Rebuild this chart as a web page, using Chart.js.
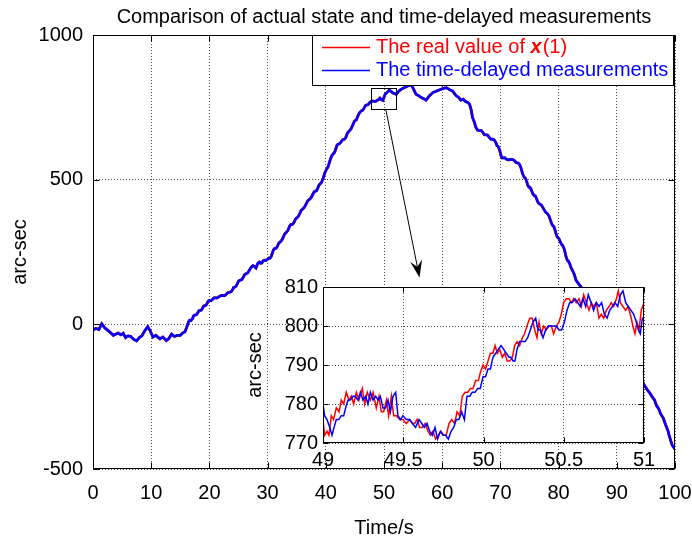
<!DOCTYPE html>
<html><head><meta charset="utf-8">
<script src="https://cdn.jsdelivr.net/npm/chart.js@4.4.1/dist/chart.umd.min.js"></script>
<style>
html,body{margin:0;padding:0;background:#fff;}
#wrap{position:relative;width:692px;height:542px;overflow:hidden;}
#main{position:absolute;left:0;top:0;}
#inset{position:absolute;left:230px;top:270px;}
</style></head><body>
<div id="wrap">
<canvas id="main" width="692" height="542"></canvas>
<canvas id="inset" width="430" height="203"></canvas>
</div>
<script>
const FONT = '"Liberation Sans", Arial, Helvetica, sans-serif';
const titleText = 'Comparison of actual state and time-delayed measurements';
const xTitle = 'Time/s';
const yTitle = 'arc-sec';
const seriesNames = ['The real value of x(1)', 'The time-delayed measurements'];
const legendRealParts = ['The real value of ', 'x', '(1)'];

const xTicks = [0, 10, 20, 30, 40, 50, 60, 70, 80, 90, 100];
const yTicks = [-500, 0, 500, 1000];
const insetXTicks = [49, 49.5, 50, 50.5, 51];
const insetYTicks = [770, 780, 790, 800, 810];

const mainTime = [
  0,0.5,1.0,1.5,2.0,2.5,2.8,3.5,4.0,4.3,4.8,5.2,5.6,6.0,6.5,7.0,7.5,8.0,8.4,8.9,9.4,9.8,10.3,10.8,11.2,11.5,12.0,12.6,13.0,13.5,14.0,14.5,15.0,15.4,15.8,16.2,
  16.4,16.6,16.85,17.1,17.3,17.5,17.75,18.0,18.2,18.4,18.6,18.8,19.0,19.2,19.4,19.6,19.8,20.0,
  20.25,20.5,20.75,21.0,21.3,21.6,21.95,22.3,22.6,22.9,23.2,23.5,23.75,24.0,24.15,24.3,24.55,24.8,25.0,25.2,25.5,25.8,
  26.05,26.3,26.6,26.9,27.2,27.5,27.75,28.0,28.3,28.6,28.8,29.0,29.25,29.5,29.75,30.0,
  30.2,30.4,30.6,30.8,31.0,31.2,31.45,31.7,31.9,32.1,32.35,32.6,32.9,33.2,33.5,33.8,34.0,34.2,34.4,34.6,34.8,35.0,
  35.25,35.5,35.75,36.0,36.3,36.6,36.9,37.2,37.5,37.8,38.0,38.2,38.4,38.6,38.8,39.0,39.25,39.5,39.8,40.1,
  40.4,40.7,41.0,41.3,41.5,41.7,41.9,42.1,42.35,42.6,42.9,43.2,43.4,43.6,43.8,44.0,44.35,44.7,44.9,45.1,
  45.25,45.4,45.75,46.1,46.35,46.6,46.8,47.0,47.25,47.5,47.8,48.1,
  48.5,49.0,49.3,49.5,49.8,50.0,50.2,50.5,50.9,51.2,51.5,52.1,52.5,52.9,53.5,54.1,54.7,55.1,55.5,56.0,56.3,56.8,57.2,57.5,57.8,58.4,59.0,59.5,60.1,60.7,61.2,61.8,62.4,62.8,63.2,63.6,64.0,64.4,64.7,65.0,65.2,65.5,65.8,
  66.1,66.4,66.7,67.0,67.25,67.5,67.8,68.1,68.35,68.6,68.9,69.2,69.4,69.6,69.85,70.1,
  70.3,70.5,70.75,71.0,71.35,71.7,72.05,72.4,72.7,73.0,73.25,73.5,73.8,74.1,74.3,74.5,74.7,74.9,75.1,75.3,
  75.55,75.8,76.0,76.2,76.45,76.7,77.05,77.4,77.75,78.1,78.35,78.6,78.8,79.0,79.2,79.4,79.6,79.8,80.0,80.2,
  80.45,80.7,80.9,81.1,81.3,81.5,81.7,81.9,82.15,82.4,82.7,83.0,
  84.0,85.0,86.0,87.0,88.0,89.0,90.0,91.0,92.0,93.0,94.0,94.7,95.3,95.7,96.1,96.5,96.8,97.2,97.5,98.0,98.4,98.8,99.0,99.5,100.0];
const mainValue = [
  -20,-14,-18,2,-12,-20,-25,-38,-33,-30,-36,-31,-46,-40,-42,-52,-57,-45,-40,-22,-8,-22,-44,-38,-45,-50,-44,-56,-50,-34,-42,-38,-38,-30,-26,-5,
  8,14,13,20,30,32,33,40,47,48,49,55,63,65,66,72,80,83,
  82,85,91,92,91,95,99,100,99,104,110,111,113,120,127,128,131,140,149,152,154,162,
  172,175,178,188,198,203,200,195,210,215,211,212,220,222,221,225,
  229,228,233,245,257,262,263,270,280,284,288,297,311,318,325,340,345,345,348,355,364,368,
  372,382,393,398,404,415,427,432,438,451,458,460,462,470,480,485,490,502,522,535,
  545,565,582,590,594,605,618,623,624,630,638,640,644,655,664,668,676,692,702,705,
  707,715,730,738,740,748,756,758,759,765,771,772,
  770,776,782,777,774,785,795,801,809,805,800,795,805,812,818,824,828,812,795,790,785,780,775,782,790,801,806,810,815,818,812,806,790,785,775,778,770,767,761,740,715,700,680,
  671,670,670,663,655,655,654,646,640,640,638,629,618,615,604,583,
  575,575,576,571,568,570,570,566,559,558,554,543,521,508,505,495,481,474,473,465,
  452,445,444,435,422,416,412,400,388,382,374,360,348,341,337,325,310,301,298,290,
  278,272,264,250,232,221,218,210,195,186,172,152,
  125,95,62,30,5,-25,-55,-82,-110,-142,-178,-210,-228,-238,-251,-262,-280,-292,-308,-325,-348,-368,-385,-417,-432];

const insetRealTime = [49.000,49.010,49.025,49.037,49.052,49.066,49.083,49.100,49.114,49.129,49.145,49.162,49.177,49.191,49.208,49.224,49.245,49.260,49.276,49.295,49.312,49.332,49.349,49.363,49.378,49.395,49.409,49.426,49.440,49.457,49.478,49.498,49.519,49.540,49.557,49.571,49.586,49.602,49.619,49.636,49.654,49.669,49.685,49.702,49.719,49.735,49.752,49.768,49.785,49.802,49.820,49.835,49.852,49.868,49.885,49.903,49.918,49.935,49.951,49.968,49.980,49.997,50.013,50.028,50.043,50.059,50.072,50.086,50.101,50.117,50.132,50.148,50.163,50.180,50.194,50.209,50.225,50.242,50.256,50.271,50.288,50.304,50.319,50.333,50.346,50.360,50.375,50.391,50.408,50.423,50.437,50.454,50.470,50.485,50.499,50.516,50.533,50.547,50.562,50.578,50.595,50.610,50.624,50.641,50.657,50.672,50.686,50.703,50.720,50.734,50.749,50.765,50.782,50.796,50.811,50.828,50.840,50.853,50.869,50.886,50.900,50.915,50.931,50.944,50.956,50.969,50.983,51.000];
const insetRealValue = [776,772,773,772,777,776,779,778,781,780,783,781,782,780,783,781,784,780,783,781,783,779,782,778,778,781,777,782,777,777,776,776,775,776,775,775,776,774,774,775,773,772,773,771,772,773,772,772,775,776,775,778,777,782,783,783,784,784,786,786,788,790,789,791,793,793,795,793,794,792,793,791,791,792,795,796,795,797,798,800,802,802,799,797,801,798,800,799,800,800,798,800,801,803,806,807,807,806,807,806,807,805,808,806,804,806,805,806,802,803,802,804,805,806,805,807,809,806,805,804,805,803,800,798,801,799,804,806];

const insetDelayTime = [49.000,49.010,49.025,49.042,49.056,49.069,49.083,49.098,49.114,49.129,49.141,49.156,49.170,49.187,49.201,49.218,49.233,49.249,49.266,49.280,49.295,49.312,49.328,49.343,49.357,49.374,49.390,49.405,49.420,49.436,49.453,49.467,49.482,49.498,49.519,49.540,49.557,49.577,49.598,49.615,49.631,49.648,49.665,49.681,49.698,49.714,49.731,49.748,49.764,49.781,49.798,49.814,49.831,49.847,49.864,49.881,49.897,49.914,49.930,49.947,49.964,49.980,49.997,50.013,50.028,50.043,50.059,50.076,50.092,50.109,50.126,50.142,50.159,50.171,50.184,50.196,50.209,50.225,50.242,50.259,50.275,50.292,50.308,50.325,50.340,50.354,50.371,50.387,50.404,50.421,50.437,50.454,50.470,50.487,50.504,50.520,50.537,50.553,50.570,50.587,50.603,50.620,50.637,50.653,50.670,50.686,50.703,50.720,50.736,50.753,50.770,50.786,50.803,50.819,50.836,50.853,50.869,50.886,50.902,50.919,50.936,50.952,50.965,50.977,50.990,51.000];
const insetDelayValue = [780,777,776,774,772,774,776,776,777,777,779,781,781,782,782,781,783,781,782,780,783,781,782,781,782,779,779,781,778,782,783,777,776,777,776,776,775,774,776,775,774,775,773,772,774,771,773,772,772,771,773,774,776,776,778,776,782,782,783,783,784,784,787,787,789,789,792,793,794,795,794,793,792,792,791,791,794,796,796,796,797,799,801,802,799,799,797,799,800,800,800,800,799,799,801,804,806,806,807,806,805,807,805,808,806,804,806,805,806,803,802,804,805,806,805,808,809,806,805,804,803,801,799,798,802,802];

// zoom rectangle (time range, value range) and arrow (start / end in data units)
const zoomBoxTime = [47.8, 52.1];
const zoomBoxValue = [744, 816];
const arrowTime = [50.3, 56.1];
const arrowValue = [744, 162];

const RED = '#ff0000', BLUE = '#0000ff';

function fixedTicks(list){ return s => { s.ticks = list.map(v => ({value: v})); }; }

function boxAndTicksPlugin(id, tickLen){
  return {
    id,
    afterDatasetsDraw(chart){
      const {ctx, chartArea: a, scales: {x, y}} = chart;
      ctx.save();
      ctx.strokeStyle = '#000';
      ctx.lineWidth = 1;
      ctx.beginPath();
      const L = Math.round(a.left) + 0.5, R = Math.round(a.right) - 0.5;
      const T = Math.round(a.top) + 0.5, B = Math.round(a.bottom) - 0.5;
      x.ticks.forEach(t => {
        const px = Math.round(x.getPixelForValue(t.value)) + 0.5;
        ctx.moveTo(px, B); ctx.lineTo(px, B - tickLen);
        ctx.moveTo(px, T); ctx.lineTo(px, T + tickLen);
      });
      y.ticks.forEach(t => {
        const py = Math.round(y.getPixelForValue(t.value)) + 0.5;
        ctx.moveTo(L, py); ctx.lineTo(L + tickLen, py);
        ctx.moveTo(R, py); ctx.lineTo(R - tickLen, py);
      });
      ctx.stroke();
      ctx.strokeRect(L, T, R - L, B - T);
      ctx.restore();
    }
  };
}

const annotationPlugin = {
  id: 'zoomAnnot',
  afterDatasetsDraw(chart){
    const {ctx, scales: {x, y}} = chart;
    ctx.save();
    ctx.strokeStyle = '#000';
    ctx.lineWidth = 1;
    const x0 = Math.round(x.getPixelForValue(zoomBoxTime[0])) + 0.5;
    const x1 = Math.round(x.getPixelForValue(zoomBoxTime[1])) + 0.5;
    const y0 = Math.round(y.getPixelForValue(zoomBoxValue[1])) + 0.5;
    const y1 = Math.round(y.getPixelForValue(zoomBoxValue[0])) + 0.5;
    ctx.strokeRect(x0, y0, x1 - x0, y1 - y0);
    const sx = x.getPixelForValue(arrowTime[0]), sy = y.getPixelForValue(arrowValue[0]);
    const ex = x.getPixelForValue(arrowTime[1]), ey = y.getPixelForValue(arrowValue[1]);
    const dx = ex - sx, dy = ey - sy, len = Math.hypot(dx, dy);
    const ux = dx / len, uy = dy / len, nx = -uy, ny = ux;
    const headLen = 17, notch = 11, half = 6;
    ctx.beginPath();
    ctx.moveTo(sx, sy);
    ctx.lineTo(ex - ux * notch, ey - uy * notch);
    ctx.stroke();
    ctx.fillStyle = '#000';
    ctx.beginPath();
    ctx.moveTo(ex, ey);
    ctx.lineTo(ex - ux * headLen + nx * half, ey - uy * headLen + ny * half);
    ctx.lineTo(ex - ux * notch, ey - uy * notch);
    ctx.lineTo(ex - ux * headLen - nx * half, ey - uy * headLen - ny * half);
    ctx.closePath();
    ctx.fill();
    ctx.restore();
  }
};

const titleLegendPlugin = {
  id: 'titleLegend',
  afterDraw(chart){
    const {ctx, chartArea: a} = chart;
    ctx.save();
    ctx.fillStyle = '#000';
    ctx.font = '20px ' + FONT;
    ctx.textAlign = 'center';
    ctx.textBaseline = 'middle';
    ctx.fillText(titleText, (a.left + a.right) / 2, 17);
    const lx = 312, ly = 35, lw = 361, lh = 50;
    ctx.fillStyle = '#fff';
    ctx.fillRect(lx, ly, lw, lh);
    ctx.strokeStyle = '#000';
    ctx.lineWidth = 1;
    ctx.strokeRect(lx + 0.5, ly + 0.5, lw, lh);
    const rows = [{color: RED, y: 47}, {color: BLUE, y: 70}];
    ctx.lineWidth = 1.3;
    rows.forEach(r => {
      ctx.strokeStyle = r.color;
      ctx.beginPath();
      ctx.moveTo(322, r.y + 0.5); ctx.lineTo(370, r.y + 0.5);
      ctx.stroke();
    });
    ctx.textAlign = 'left';
    ctx.textBaseline = 'middle';
    let tx = 376;
    ctx.fillStyle = RED;
    const fonts = ['20px ' + FONT, 'italic bold 20px ' + FONT, '20px ' + FONT];
    legendRealParts.forEach((p, i) => {
      ctx.font = fonts[i];
      ctx.fillText(p, tx, 47);
      tx += ctx.measureText(p).width + (i === 1 ? 1 : 0);
    });
    ctx.font = '20px ' + FONT;
    ctx.fillStyle = BLUE;
    ctx.fillText(seriesNames[1], 376, 70);
    ctx.restore();
  }
};

const axisFont = {family: FONT, size: 20};
const gridOpts = {color: 'rgba(0,0,0,0.7)', lineWidth: 1, drawTicks: false};
const borderOpts = {display: false, dash: [1, 2]};

new Chart(document.getElementById('main'), {
  type: 'line',
  data: {
    datasets: [
      {label: seriesNames[1], order: 0, data: mainTime.map((t, i) => ({x: t, y: mainValue[i]})), borderColor: BLUE, borderWidth: 2.6, pointRadius: 0, tension: 0},
      {label: seriesNames[0], order: 1, data: mainTime.map((t, i) => ({x: t, y: mainValue[i]})), borderColor: RED, borderWidth: 2.8, pointRadius: 0, tension: 0}
    ]
  },
  options: {
    responsive: false, animation: false, devicePixelRatio: 1,
    layout: {padding: {top: 35, right: 17, left: 0, bottom: 0}},
    plugins: {legend: {display: false}, tooltip: {enabled: false}, title: {display: false}},
    scales: {
      x: {
        type: 'linear', min: 0, max: 100,
        afterBuildTicks: fixedTicks(xTicks),
        afterFit: s => { s.height = 73; s.paddingLeft = 0; s.paddingRight = 0; },
        grid: gridOpts, border: borderOpts,
        ticks: {color: '#000', font: axisFont, padding: 12, maxRotation: 0, autoSkip: false, callback: v => String(v)},
        title: {display: true, text: xTitle, color: '#000', font: axisFont, padding: {top: 0, bottom: 2}}
      },
      y: {
        type: 'linear', min: -500, max: 1000,
        afterBuildTicks: fixedTicks(yTicks),
        afterFit: s => { s.width = 93; },
        grid: gridOpts, border: borderOpts,
        ticks: {color: '#000', font: axisFont, padding: 10, autoSkip: false, callback: v => String(v)},
        title: {display: true, text: yTitle, color: '#000', font: axisFont, padding: {top: 8, bottom: 0}}
      }
    }
  },
  plugins: [boxAndTicksPlugin('mainBox', 6), annotationPlugin, titleLegendPlugin]
});

const insetBg = {
  id: 'insetBg',
  beforeDraw(chart){
    const {ctx, chartArea: a} = chart;
    ctx.save(); ctx.fillStyle = '#fff';
    ctx.fillRect(a.left, a.top, a.right - a.left, a.bottom - a.top);
    ctx.restore();
  }
};

new Chart(document.getElementById('inset'), {
  type: 'line',
  data: {
    datasets: [
      {label: seriesNames[1], order: 0, data: insetDelayTime.map((t, i) => ({x: t, y: insetDelayValue[i]})), borderColor: BLUE, borderWidth: 1.5, pointRadius: 0, tension: 0},
      {label: seriesNames[0], order: 1, data: insetRealTime.map((t, i) => ({x: t, y: insetRealValue[i]})), borderColor: RED, borderWidth: 1.5, pointRadius: 0, tension: 0}
    ]
  },
  options: {
    responsive: false, animation: false, devicePixelRatio: 1,
    layout: {padding: {top: 10, right: 16, left: 0, bottom: 0}},
    plugins: {legend: {display: false}, tooltip: {enabled: false}, title: {display: false}},
    scales: {
      x: {
        type: 'linear', min: 49, max: 51,
        afterBuildTicks: fixedTicks(insetXTicks),
        afterFit: s => { s.height = 30; s.paddingLeft = 0; s.paddingRight = 0; },
        grid: gridOpts, border: borderOpts,
        ticks: {color: '#000', font: axisFont, padding: 5, maxRotation: 0, autoSkip: false, callback: v => String(v)}
      },
      y: {
        type: 'linear', min: 770, max: 810,
        afterBuildTicks: fixedTicks(insetYTicks),
        afterFit: s => { s.width = 93; },
        grid: gridOpts, border: borderOpts,
        ticks: {color: '#000', font: axisFont, padding: 5, autoSkip: false, callback: v => String(v)},
        title: {display: true, text: yTitle, color: '#000', font: axisFont, padding: {top: 13, bottom: 0}}
      }
    }
  },
  plugins: [insetBg, boxAndTicksPlugin('insetBox', 5)]
});
</script>
</body></html>
